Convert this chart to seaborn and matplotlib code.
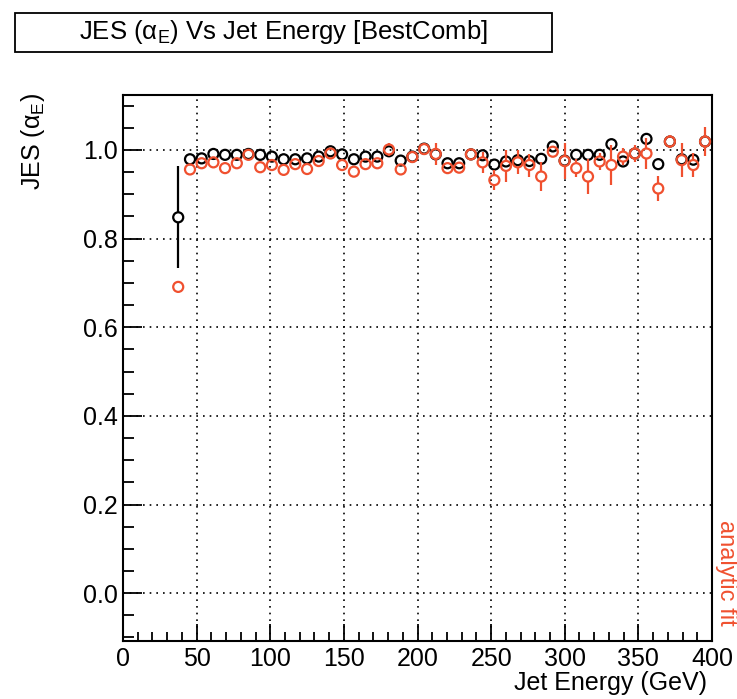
import numpy as np
import pandas as pd
import matplotlib
matplotlib.use("Agg")
import matplotlib.pyplot as plt
import seaborn as sns
from matplotlib.ticker import MultipleLocator, FormatStrFormatter
from matplotlib.patches import Rectangle

# ---------------- data ----------------
jet_energy = [37.5, 45.5, 53.4, 61.4, 69.3, 77.3, 85.2, 93.2, 101.1, 109.1,
              117.0, 125.0, 132.9, 140.9, 148.8, 156.8, 164.7, 172.7, 180.6, 188.6,
              196.5, 204.5, 212.4, 220.4, 228.3, 236.3, 244.2, 252.2, 260.1, 268.1,
              276.0, 284.0, 291.9, 299.9, 307.8, 315.8, 323.7, 331.7, 339.6, 347.6,
              355.5, 363.5, 371.4, 379.4, 387.3, 395.3]

jes_bestcomb = [0.848, 0.979, 0.981, 0.991, 0.989, 0.989, 0.991, 0.989, 0.985, 0.979,
                0.979, 0.981, 0.985, 0.997, 0.990, 0.979, 0.985, 0.985, 0.997, 0.976,
                0.985, 1.003, 0.990, 0.970, 0.970, 0.990, 0.988, 0.967, 0.974, 0.977,
                0.975, 0.980, 1.008, 0.976, 0.989, 0.989, 0.989, 1.013, 0.974, 0.992,
                1.025, 0.968, 1.019, 0.979, 0.978, 1.019]
err_bestcomb = [0.115, 0.004, 0.004, 0.004, 0.004, 0.004, 0.004, 0.004, 0.004, 0.004,
                0.004, 0.004, 0.004, 0.004, 0.004, 0.004, 0.004, 0.004, 0.005, 0.005,
                0.005, 0.006, 0.006, 0.006, 0.006, 0.006, 0.006, 0.006, 0.007, 0.007,
                0.007, 0.007, 0.007, 0.008, 0.008, 0.008, 0.008, 0.009, 0.009, 0.009,
                0.012, 0.010, 0.010, 0.010, 0.010, 0.012]

jes_analytic = [0.691, 0.956, 0.970, 0.972, 0.959, 0.970, 0.989, 0.961, 0.966, 0.955,
                0.968, 0.957, 0.975, 0.992, 0.966, 0.951, 0.968, 0.970, 1.001, 0.956,
                0.984, 1.002, 0.991, 0.959, 0.960, 0.990, 0.972, 0.932, 0.964, 0.972,
                0.966, 0.940, 0.996, 0.975, 0.959, 0.940, 0.974, 0.966, 0.985, 0.992,
                0.992, 0.913, 1.019, 0.977, 0.966, 1.019]
err_analytic = [0.004, 0.005, 0.005, 0.005, 0.005, 0.005, 0.006, 0.006, 0.006, 0.006,
                0.007, 0.008, 0.008, 0.008, 0.008, 0.008, 0.008, 0.009, 0.015, 0.010,
                0.010, 0.012, 0.024, 0.010, 0.010, 0.012, 0.023, 0.022, 0.036, 0.027,
                0.026, 0.032, 0.012, 0.040, 0.020, 0.040, 0.020, 0.045, 0.020, 0.020,
                0.034, 0.028, 0.015, 0.038, 0.028, 0.032]

x_ticks = [0, 50, 100, 150, 200, 250, 300, 350, 400]
y_ticks = [0.0, 0.2, 0.4, 0.6, 0.8, 1.0]

title_text = r"JES ($\mathregular{\alpha_E}$) Vs Jet Energy [BestComb]"
ylabel_text = r"JES ($\mathregular{\alpha_E}$)"
xlabel_text = "Jet Energy (GeV)"
side_text = "analytic fit"

BLACK = "#000000"
RED = "#F0502F"

# ---------------- style ----------------
sns.set_theme(style="ticks")
plt.rcParams["font.family"] = ["Liberation Sans", "DejaVu Sans"]
plt.rcParams["mathtext.fontset"] = "custom"
plt.rcParams["mathtext.rm"] = "Liberation Sans"
plt.rcParams["mathtext.it"] = "Liberation Sans:italic"
plt.rcParams["text.color"] = "black"
plt.rcParams["axes.labelcolor"] = "black"
plt.rcParams["xtick.color"] = "black"
plt.rcParams["ytick.color"] = "black"

W, H = 737, 699
fig = plt.figure(figsize=(W / 100, H / 100), dpi=100)
fig.patch.set_facecolor("white")

ax_l, ax_r, ax_t, ax_b = 123, 712, 95, 641
ax = fig.add_axes([ax_l / W, 1 - ax_b / H, (ax_r - ax_l) / W, (ax_b - ax_t) / H])
ax.set_facecolor("white")

ymin, ymax = -0.108, 1.124
ax.set_xlim(0, 400)
ax.set_ylim(ymin, ymax)

# grid
ax.set_xticks(x_ticks)
ax.set_yticks(y_ticks)
ax.xaxis.set_minor_locator(MultipleLocator(10))
ax.yaxis.set_minor_locator(MultipleLocator(0.05))
ax.yaxis.set_major_formatter(FormatStrFormatter("%.1f"))
ax.grid(True, which="major", color="black", linestyle=(0, (1, 3)), linewidth=1.2, zorder=0)

for s in ax.spines.values():
    s.set_linewidth(1.5)
    s.set_color("black")

ax.tick_params(axis="both", which="both", direction="in", top=False, right=False,
               width=1.3, labelsize=18)
ax.tick_params(axis="y", which="major", length=14, pad=4)
ax.tick_params(axis="y", which="minor", length=8)
ax.tick_params(axis="x", which="major", length=12, pad=4)
ax.tick_params(axis="x", which="minor", length=6.5)

# error bars, drawn outside the open markers (ROOT style)
marker_radius_px = 5.8
r_data = marker_radius_px * (ymax - ymin) / (ax_b - ax_t)

def draw_errors(xv, yv, ev, color, z):
    xv = np.asarray(xv); yv = np.asarray(yv); ev = np.asarray(ev)
    m = ev > r_data
    ax.vlines(xv[m], yv[m] + r_data, yv[m] + ev[m], color=color, lw=1.6, zorder=z)
    ax.vlines(xv[m], yv[m] - ev[m], yv[m] - r_data, color=color, lw=1.6, zorder=z)

df_b = pd.DataFrame({"E": jet_energy, "JES": jes_bestcomb})
df_r = pd.DataFrame({"E": jet_energy, "JES": jes_analytic})

draw_errors(jet_energy, jes_bestcomb, err_bestcomb, BLACK, 2)
sns.scatterplot(data=df_b, x="E", y="JES", ax=ax, marker="o", s=52,
                facecolor="none", edgecolor=BLACK, linewidth=1.6, zorder=3, legend=False)
draw_errors(jet_energy, jes_analytic, err_analytic, RED, 4)
sns.scatterplot(data=df_r, x="E", y="JES", ax=ax, marker="o", s=52,
                facecolor="none", edgecolor=RED, linewidth=1.6, zorder=5, legend=False)

ax.set_xlabel("")
ax.set_ylabel("")

# axis titles (ROOT placement: aligned to the axis ends)
fig.text(33 / W, 1 - 93 / H, ylabel_text, rotation=90, ha="center", va="top", fontsize=18)
fig.text(707 / W, 1 - 683 / H, xlabel_text, ha="right", va="center", fontsize=18)
fig.text(726 / W, 1 - 520 / H, side_text, rotation=270, ha="center", va="top",
         fontsize=17, color=RED)

# title box
bx0, bx1, by0, by1 = 15, 552, 13, 52
fig.patches.append(Rectangle((bx0 / W, 1 - by1 / H), (bx1 - bx0) / W, (by1 - by0) / H,
                             transform=fig.transFigure, fill=False, lw=1.3, ec="black"))
fig.text((bx0 + bx1) / 2 / W, 1 - (by0 + by1) / 2 / H, title_text,
         ha="center", va="center", fontsize=18.5)

fig.savefig("out.png", dpi=100, facecolor="white")
